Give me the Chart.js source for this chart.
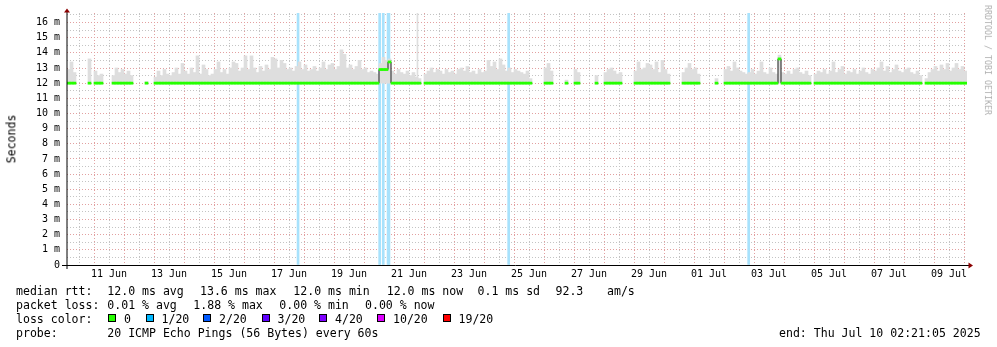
<!DOCTYPE html>
<html><head><meta charset="utf-8">
<script src="https://cdn.jsdelivr.net/npm/chart.js@4.4.1/dist/chart.umd.min.js"></script>
<style>
html,body{margin:0;padding:0;background:#fff;}
#wrap{position:relative;width:997px;height:347px;overflow:hidden;background:#fff;}
canvas{position:absolute;left:0;top:0;}
.t{position:absolute;font-family:'DejaVu Sans Mono',monospace;font-size:11.55px;line-height:14px;white-space:pre;color:#000;}
.box{position:absolute;width:6px;height:6px;border:1px solid #000;}
.vl{position:absolute;font-family:'DejaVu Sans Mono',monospace;white-space:pre;transform-origin:center center;}
</style></head><body>
<div id="wrap"><canvas id="c" width="997" height="347"></canvas></div>
<script>
// ---- data (time axis in days after 10 Jun 00:00; graph spans 10 Jun 02:21 .. 10 Jul 02:21) ----
const T0 = 0.098, T1 = 30.098, STEP = 0.1;
const xTickLabels = ['11 Jun','13 Jun','15 Jun','17 Jun','19 Jun','21 Jun','23 Jun','25 Jun','27 Jun','29 Jun','01 Jul','03 Jul','05 Jul','07 Jul','09 Jul'];
const yTickLabels = ['0','1 m','2 m','3 m','4 m','5 m','6 m','7 m','8 m','9 m','10 m','11 m','12 m','13 m','14 m','15 m','16 m'];
const Y_MAX = 16.63;
const n = null;
// smoke top (ms), one sample per 0.1 day
const smokeTop = [
12.9,13.4,12.7,n,n,n,n,13.6,n,12.8,
12.5,12.6,n,n,n,12.5,13.0,12.7,12.9,12.6,
12.8,12.5,n,n,n,n,12.1,n,n,12.4,
12.8,12.5,12.9,12.6,12.5,12.7,13.0,12.6,13.3,12.8,
12.6,13.0,12.7,13.8,12.6,13.2,12.9,12.5,12.6,12.9,
13.4,12.7,12.9,12.6,13.0,13.4,13.3,12.8,13.0,13.8,
12.9,13.8,13.0,12.7,13.1,12.8,13.2,12.9,13.7,13.6,
13.0,13.5,13.3,12.9,13.0,12.8,13.1,13.4,12.9,13.2,
12.8,12.9,13.1,12.8,13.0,13.4,12.9,13.2,13.3,12.9,
13.1,14.2,13.9,13.0,13.2,12.9,13.1,13.5,12.9,13.0,
12.7,12.8,12.7,12.6,13.3,13.7,13.5,13.6,12.8,12.6,
12.9,12.7,12.6,12.8,12.5,12.7,12.4,12.3,n,12.6,
12.8,13.0,12.7,12.9,12.8,12.6,12.9,12.7,12.8,12.6,
12.9,13.0,12.8,13.1,12.7,12.8,12.6,12.9,12.7,12.8,
13.5,13.1,13.4,12.9,13.6,13.2,12.8,13.0,12.7,12.9,
12.8,12.7,12.6,12.8,12.3,n,n,n,n,13.0,
13.3,12.8,n,n,n,n,12.2,n,n,12.9,
12.7,n,n,n,n,n,12.5,n,n,12.7,
12.9,13.0,12.8,12.6,12.7,n,n,n,n,12.8,
13.4,12.9,13.0,13.3,13.2,12.9,13.4,12.7,13.5,12.9,
12.6,n,n,n,n,12.7,13.0,13.3,12.9,13.0,
12.6,n,n,n,n,n,12.3,n,n,12.9,
13.1,12.8,13.4,13.0,12.8,12.7,12.6,12.7,12.9,12.6,
12.8,13.4,12.7,12.6,13.0,12.7,12.6,13.85,12.7,12.6,
12.8,12.6,12.9,13.0,12.7,12.6,12.8,12.5,n,12.6,
12.8,12.7,12.9,12.6,12.8,13.4,12.7,12.9,13.1,12.6,
12.8,12.7,12.9,12.6,12.8,13.0,12.7,12.6,12.9,12.8,
13.0,13.4,12.8,13.1,12.7,12.9,13.2,12.8,12.7,12.9,
13.0,12.7,12.6,12.8,12.5,n,12.3,12.7,12.9,13.1,
12.8,13.2,12.9,13.3,12.8,13.0,13.3,12.9,13.1,12.8
];
// median rtt (ms)
const median = [
12,12,12,n,n,n,n,12,n,12,
12,12,n,n,n,12,12,12,12,12,
12,12,n,n,n,n,12,n,n,12,
12,12,12,12,12,12,12,12,12,12,
12,12,12,12,12,12,12,12,12,12,
12,12,12,12,12,12,12,12,12,12,
12,12,12,12,12,12,12,12,12,12,
12,12,12,12,12,12,12,12,12,12,
12,12,12,12,12,12,12,12,12,12,
12,12,12,12,12,12,12,12,12,12,
12,12,12,12,12.9,12.9,12.9,13.4,12,12,
12,12,12,12,12,12,12,12,n,12,
12,12,12,12,12,12,12,12,12,12,
12,12,12,12,12,12,12,12,12,12,
12,12,12,12,12,12,12,12,12,12,
12,12,12,12,12,n,n,n,n,12,
12,12,n,n,n,n,12,n,n,12,
12,n,n,n,n,n,12,n,n,12,
12,12,12,12,12,n,n,n,n,12,
12,12,12,12,12,12,12,12,12,12,
12,n,n,n,n,12,12,12,12,12,
12,n,n,n,n,n,12,n,n,12,
12,12,12,12,12,12,12,12,12,12,
12,12,12,12,12,12,12,13.6,12,12,
12,12,12,12,12,12,12,12,n,12,
12,12,12,12,12,12,12,12,12,12,
12,12,12,12,12,12,12,12,12,12,
12,12,12,12,12,12,12,12,12,12,
12,12,12,12,12,n,12,12,12,12,
12,12,12,12,12,12,12,12,12,12
];
// times (days) of packet-loss bars (1/20) and of an off-scale smoke spike
const lossTimes = [7.80, 10.52, 10.64, 10.80, 10.83, 14.82, 22.82];
const smokeSpikeTimes = [11.78];

// legend texts
const rttLabel = 'median rtt:';
const rttStats = ['12.0 ms avg','13.6 ms max','12.0 ms min','12.0 ms now','0.1 ms sd','92.3','am/s'];
const lossLabel = 'packet loss:';
const lossStats = ['0.01 % avg','1.88 % max','0.00 % min','0.00 % now'];
const colorLabel = 'loss color:';
const lossLegend = ['0','1/20','2/20','3/20','4/20','10/20','19/20'];
const lossColors = ['#26ff00','#00b8ff','#0059ff','#5e00ff','#7e00ff','#dd00ff','#ff0000'];
const probeLabel = 'probe:';
const probeText = '20 ICMP Echo Pings (56 Bytes) every 60s';
const endText = 'end: Thu Jul 10 02:21:05 2025';

// ---- build chart data ----
const tAt = i => T0 + (i + 0.5) * STEP;
const smokeData = [];
smokeTop.forEach((v, i) => { if (v !== null) smokeData.push({x: tAt(i), y: [12.0, v]}); });
const medLine = median.map((v, i) => ({x: tAt(i), y: v}));
const medBars = [];
median.forEach((v, i) => { if (v !== null) medBars.push({x: tAt(i), y: [v - 0.07, v + 0.07]}); });
const lossData = lossTimes.map(t => ({x: t, y: [0, Y_MAX]}));
const spikeData = smokeSpikeTimes.map(t => ({x: t, y: [12.0, Y_MAX]}));

const xGrid = []; for (let v = 0.5; v <= 30; v += 0.5) xGrid.push(v);
const yGrid = []; for (let v = 0; v <= 16.5; v += 0.5) yGrid.push(v);
const MAJOR = '#e2a0a0', MINOR = '#c4c4c4';
const tickFont = {family: "'DejaVu Sans Mono'", size: 10};

const axesPlugin = {
  id: 'rrdAxes',
  afterDatasetsDraw(chart) {
    const {ctx, chartArea: a} = chart;
    const y0 = Math.round(chart.scales.y.getPixelForValue(0));
    const xl = a.left;
    ctx.save();
    ctx.strokeStyle = '#000'; ctx.lineWidth = 1;
    ctx.beginPath(); ctx.moveTo(xl, a.top - 1); ctx.lineTo(xl, y0 + 4); ctx.stroke();
    ctx.beginPath(); ctx.moveTo(xl - 5, y0 + 0.5); ctx.lineTo(a.right + 2, y0 + 0.5); ctx.stroke();
    ctx.fillStyle = '#8b0000';
    ctx.beginPath(); ctx.moveTo(xl, a.top - 4.5); ctx.lineTo(xl - 3, a.top - 0.5); ctx.lineTo(xl + 3, a.top - 0.5); ctx.closePath(); ctx.fill();
    ctx.beginPath(); ctx.moveTo(a.right + 6, y0 + 0.5); ctx.lineTo(a.right + 1.5, y0 - 2.5); ctx.lineTo(a.right + 1.5, y0 + 3.5); ctx.closePath(); ctx.fill();
    ctx.restore();
  }
};

new Chart(document.getElementById('c'), {
  type: 'bar',
  data: {
    datasets: [
      {type: 'bar', label: 'median', data: medBars, backgroundColor: '#26ff00', barThickness: 3, grouped: false, borderWidth: 0, order: 1},
      {type: 'line', label: 'median line', data: medLine, borderColor: '#202020', borderWidth: 1, stepped: 'middle', pointRadius: 0, spanGaps: false, fill: false, order: 2},
      {type: 'bar', label: 'smoke', data: smokeData, backgroundColor: '#dedede', barThickness: 3, grouped: false, borderWidth: 0, order: 3},
      {type: 'bar', label: 'smoke spike', data: spikeData, backgroundColor: '#dedede', barThickness: 1, grouped: false, borderWidth: 0, order: 4},
      {type: 'bar', label: 'loss', data: lossData, backgroundColor: '#a8e2fc', barThickness: 2, grouped: false, borderWidth: 0, order: 5}
    ]
  },
  options: {
    responsive: false, animation: false, events: [], devicePixelRatio: 1,
    layout: {padding: {left: 0, right: 30, top: 13, bottom: 62}},
    plugins: {legend: {display: false}, tooltip: {enabled: false}},
    scales: {
      x: {
        type: 'linear', min: T0, max: T1, offset: false,
        afterBuildTicks: s => { s.ticks = xGrid.map(v => ({value: v})); },
        afterFit: s => { s.height = 20; },
        grid: {offset: false, drawTicks: false, lineWidth: 1, color: c => (c.tick && Number.isInteger(c.tick.value)) ? MAJOR : MINOR},
        border: {display: false, dash: [1, 2]},
        ticks: {
          autoSkip: false, maxRotation: 0, minRotation: 0, padding: 3, color: '#000', font: tickFont,
          callback: v => { const k = (v - 1.5) / 2; return (Number.isInteger(k) && k >= 0 && k < xTickLabels.length) ? xTickLabels[k] : ''; }
        }
      },
      y: {
        type: 'linear', min: 0, max: Y_MAX,
        afterBuildTicks: s => { s.ticks = yGrid.map(v => ({value: v})); },
        afterFit: s => { s.width = 67; },
        grid: {drawTicks: false, lineWidth: 1, color: c => (c.tick && Number.isInteger(c.tick.value)) ? MAJOR : MINOR},
        border: {display: false, dash: [1, 2]},
        ticks: {
          autoSkip: false, padding: 7, color: '#000', font: tickFont,
          callback: v => Number.isInteger(v) ? yTickLabels[v] : ''
        }
      }
    }
  },
  plugins: [axesPlugin]
});

// ---- legend / texts ----
const wrap = document.getElementById('wrap');
function txt(s, x, y, cls) {
  const d = document.createElement('div');
  d.className = cls || 't'; d.textContent = s;
  d.style.left = x + 'px'; d.style.top = y + 'px';
  wrap.appendChild(d); return d;
}
const rowTop = [283.5, 297.7, 311.9, 326.1];
txt(rttLabel, 16, rowTop[0]);
[107.3, 200, 293.3, 386.7, 477.5, 555.5, 607].forEach((x, i) => txt(rttStats[i], x, rowTop[0]));
txt(lossLabel, 16, rowTop[1]);
[107.3, 193.3, 279.3, 365].forEach((x, i) => txt(lossStats[i], x, rowTop[1]));
txt(colorLabel, 16, rowTop[2]);
[108, 145.5, 203, 261.5, 319, 377, 442.5].forEach((x, i) => {
  const b = document.createElement('div'); b.className = 'box';
  b.style.left = x + 'px'; b.style.top = '314.3px'; b.style.background = lossColors[i];
  wrap.appendChild(b);
  txt(lossLegend[i], x + 16, rowTop[2]);
});
txt(probeLabel, 16, rowTop[3]);
txt(probeText, 107.3, rowTop[3]);
txt(endText, 779, rowTop[3]);

const s = txt('Seconds', 0, 0, 'vl');
s.style.fontSize = '11.55px'; s.style.color = '#000';
s.style.left = (11 - s.offsetWidth / 2) + 'px'; s.style.top = (138.5 - s.offsetHeight / 2) + 'px';
s.style.transform = 'rotate(-90deg)';
const w = txt('RRDTOOL / TOBI OETIKER', 0, 0, 'vl');
w.style.fontSize = '8.3px'; w.style.color = '#b0b0b0';
w.style.left = (988 - w.offsetWidth / 2) + 'px'; w.style.top = (60 - w.offsetHeight / 2) + 'px';
w.style.transform = 'rotate(90deg)';
</script></body></html>
